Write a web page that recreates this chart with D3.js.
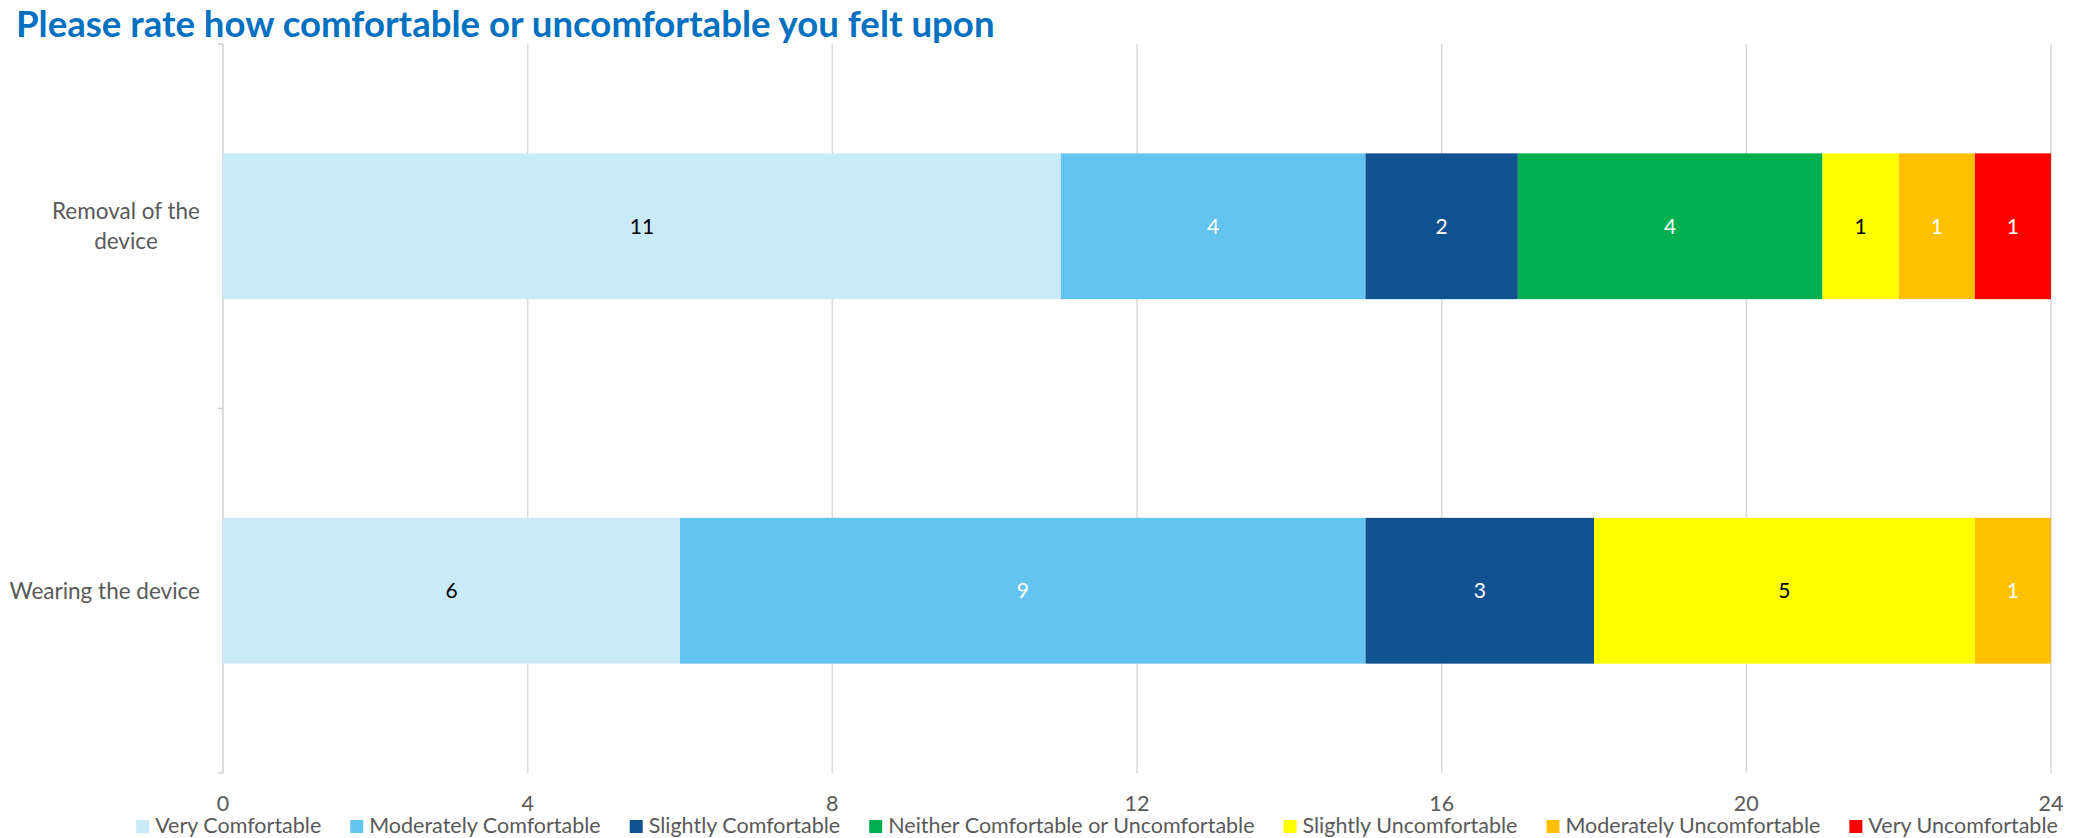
<!DOCTYPE html>
<html>
<head>
<meta charset="utf-8">
<script src="https://cdn.jsdelivr.net/npm/d3@7"></script>
<style>
  html, body { margin: 0; padding: 0; background: #fff; }
  svg { display: block; font-family: Lato, "Open Sans", sans-serif; }
</style>
</head>
<body>
<div id="chart"></div>
<script>
// data
const title = "Please rate how comfortable or uncomfortable you felt upon";
const categories = ["Removal of the device", "Wearing the device"];
const seriesNames = [
  "Very Comfortable",
  "Moderately Comfortable",
  "Slightly Comfortable",
  "Neither Comfortable or Uncomfortable",
  "Slightly Uncomfortable",
  "Moderately Uncomfortable",
  "Very Uncomfortable"
];
const removalValues = [11, 4, 2, 4, 1, 1, 1];
const wearingValues = [6, 9, 3, 0, 5, 1, 0];
const xTicks = [0, 4, 8, 12, 16, 20, 24];

const colors = ["#C9EAF9", "#62C4EF", "#10518F", "#00B050", "#FFFF00", "#FFC000", "#FF0000"];
const labelColors = ["#000", "#fff", "#fff", "#fff", "#000", "#fff", "#fff"];

const width = 2079, height = 838;
const plot = { left: 223, right: 2051, top: 44, bottom: 773 };

const svg = d3.select("#chart").append("svg")
  .attr("width", width)
  .attr("height", height);

const x = d3.scaleLinear().domain([0, 24]).range([plot.left, plot.right]);
const y = d3.scaleBand().domain(categories)
  .range([plot.top, plot.bottom])
  .paddingInner(0.6)
  .paddingOuter(0.3);

// title
svg.append("text")
  .attr("x", 16)
  .attr("y", 37)
  .attr("fill", "#0070C0")
  .attr("font-size", 36.6)
  .attr("font-weight", "bold")
  .text(title);

// vertical gridlines
svg.append("g").selectAll("line")
  .data(xTicks.slice(1))
  .join("line")
  .attr("x1", d => x(d)).attr("x2", d => x(d))
  .attr("y1", plot.top).attr("y2", plot.bottom)
  .attr("stroke", "#D9D9D9")
  .attr("stroke-width", 1.5);

// category axis line with outward ticks at band edges
const catAxis = svg.append("g");
catAxis.append("line")
  .attr("x1", x(0)).attr("x2", x(0))
  .attr("y1", plot.top).attr("y2", plot.bottom)
  .attr("stroke", "#D0D0D0")
  .attr("stroke-width", 1.5);
const edges = [plot.top, y(categories[1]) - y.step() * y.paddingInner() / 2, plot.bottom];
catAxis.selectAll(".tk").data(edges).join("line")
  .attr("x1", x(0) - 5).attr("x2", x(0))
  .attr("y1", d => d).attr("y2", d => d)
  .attr("stroke", "#D0D0D0")
  .attr("stroke-width", 1.5);

// stacked data
const rows = categories.map((c, i) => {
  const vals = i === 0 ? removalValues : wearingValues;
  const row = { category: c };
  seriesNames.forEach((s, j) => row[s] = vals[j]);
  return row;
});
const stacked = d3.stack().keys(seriesNames)(rows);

const layers = svg.append("g").selectAll("g")
  .data(stacked)
  .join("g")
  .attr("fill", (d, i) => colors[i]);

layers.selectAll("rect")
  .data(d => d.map(p => ({ p, key: d.key })))
  .join("rect")
  .attr("x", d => x(d.p[0]))
  .attr("y", d => y(d.p.data.category))
  .attr("width", d => x(d.p[1]) - x(d.p[0]))
  .attr("height", y.bandwidth());

// value labels
stacked.forEach((layer, i) => {
  svg.append("g").selectAll("text")
    .data(layer.filter(p => p[1] - p[0] > 0))
    .join("text")
    .attr("x", p => (x(p[0]) + x(p[1])) / 2)
    .attr("y", p => y(p.data.category) + y.bandwidth() / 2)
    .attr("dy", "0.36em")
    .attr("text-anchor", "middle")
    .attr("font-size", 21)
    .attr("fill", labelColors[i])
    .text(p => p[1] - p[0]);
});

// category labels, wrapped and right-aligned as a block with centred lines
const catFont = 22.5, labelRight = 200, maxLabelWidth = 200, lineHeight = 30;
const measurer = svg.append("text").attr("visibility", "hidden");
function measure(s, size) { measurer.attr("font-size", size).text(s); return measurer.node().getComputedTextLength(); }
categories.forEach(c => {
  const words = c.split(" ");
  const lines = [];
  let cur = "";
  words.forEach(w => {
    const t = cur ? cur + " " + w : w;
    if (measure(t, catFont) > maxLabelWidth && cur) { lines.push(cur); cur = w; } else { cur = t; }
  });
  lines.push(cur);
  const blockW = d3.max(lines, l => measure(l, catFont));
  const cx = labelRight - blockW / 2;
  const cy = y(c) + y.bandwidth() / 2;
  const t = svg.append("text")
    .attr("text-anchor", "middle")
    .attr("font-size", catFont)
    .attr("fill", "#595959");
  lines.forEach((l, k) => {
    t.append("tspan")
      .attr("x", cx)
      .attr("y", cy + (k - (lines.length - 1) / 2) * lineHeight)
      .attr("dy", "0.36em")
      .text(l);
  });
});

// x tick labels
svg.append("g").selectAll("text")
  .data(xTicks)
  .join("text")
  .attr("x", d => x(d))
  .attr("y", 811)
  .attr("text-anchor", "middle")
  .attr("font-size", 21.5)
  .attr("fill", "#595959")
  .text(d => d);

// legend
const legFont = 21.5, swatch = 13, swGap = 6, itemGap = 29;
const widths = seriesNames.map(s => measure(s, legFont));
measurer.remove();
const itemW = widths.map(w => swatch + swGap + w);
const total = d3.sum(itemW) + itemGap * (seriesNames.length - 1);
let lx = 1097 - total / 2;
const legend = svg.append("g");
seriesNames.forEach((s, i) => {
  const g = legend.append("g").attr("transform", `translate(${lx},0)`);
  g.append("rect")
    .attr("x", 0).attr("y", 820)
    .attr("width", swatch).attr("height", swatch)
    .attr("fill", colors[i]);
  g.append("text")
    .attr("x", swatch + swGap)
    .attr("y", 833)
    .attr("font-size", legFont)
    .attr("fill", "#595959")
    .text(s);
  lx += itemW[i] + itemGap;
});
</script>
</body>
</html>
